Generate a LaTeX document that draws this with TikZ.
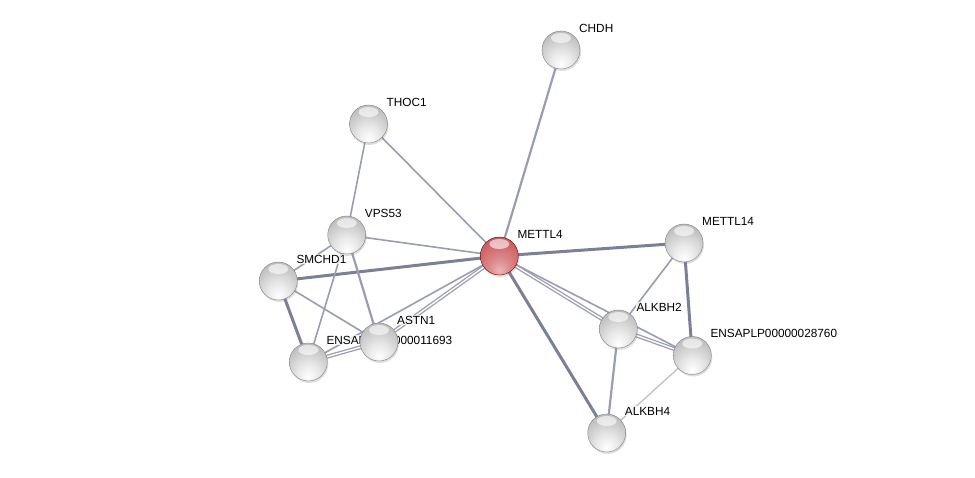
\documentclass[tikz,border=0pt]{standalone}
\usepackage{fontspec}
\setmainfont{Liberation Sans}
\usetikzlibrary{calc,shadows}
\pgfdeclarelayer{edges}
\pgfdeclarelayer{labels}
\pgfsetlayers{edges,labels,main}
\definecolor{edgec}{RGB}{122,128,152}
\definecolor{edgem}{RGB}{152,157,180}
\definecolor{edgel}{RGB}{192,195,210}
\definecolor{redmid}{RGB}{206,96,100}
\pgfdeclareradialshading{graysph}{\pgfpoint{0bp}{-20bp}}{%
  color(0bp)=(white); color(14bp)=(black!9); color(32bp)=(black!24);
  color(48bp)=(black!32); color(58bp)=(black!46); color(80bp)=(black!55)}
\pgfdeclareradialshading{redsph}{\pgfpoint{0bp}{-20bp}}{%
  color(0bp)=(redmid!45!white); color(14bp)=(redmid!75!white); color(32bp)=(redmid);
  color(48bp)=(redmid!88!black); color(58bp)=(redmid!65!black); color(80bp)=(redmid!50!black)}
\tikzset{
  ballnode/.style={circle, minimum size=38pt, inner sep=0pt, shading=graysph,
    draw=black!50, line width=0.4pt,
    drop shadow={opacity=0.25, shadow xshift=1pt, shadow yshift=-2pt},
    path picture={\fill[white,opacity=0.6] ($(path picture bounding box.center)+(0,-12)$) ellipse (10pt and 5pt);}},
  redball/.style={ballnode, shading=redsph, draw=red!40!black},
  lab/.style={anchor=west, font=\fontsize{11.8}{14}\selectfont, fill=white, fill opacity=0.75, text opacity=1, inner sep=1pt},
  thin/.style={draw=edgem, line width=1.6pt},
  med/.style={draw=edgem, line width=2.2pt},
  thick/.style={draw=edgec, line width=3pt},
  light/.style={draw=edgel, line width=1.4pt},
  dbl/.style={draw=edgem, double=white, double distance=1.4pt, line width=1.3pt},
}
\begin{document}
\begin{tikzpicture}[x=1pt,y=-1pt]
\useasboundingbox (0,0) rectangle (975,478);
% nodes
\node[ballnode] (chdh) at (561,50) {};
\node[ballnode] (thoc1) at (368.5,124) {};
\node[ballnode] (vps53) at (346.7,235) {};
\node[ballnode] (smchd1) at (278.3,281) {};
\node[ballnode] (ensa1) at (308.3,362) {};
\node[ballnode] (astn1) at (379,342) {};
\node[redball] (mettl4) at (499.3,256) {};
\node[ballnode] (mettl14) at (684,243) {};
\node[ballnode] (alkbh2) at (618.3,329) {};
\node[ballnode] (ensa2) at (692.3,355.5) {};
\node[ballnode] (alkbh4) at (606.7,433) {};
% labels
\begin{pgfonlayer}{labels}
\node[lab] (lchdh) at ($(chdh)+(17,-22)$) {CHDH};
\node[lab] (lthoc1) at ($(thoc1)+(17,-22)$) {THOC1};
\node[lab] (lvps53) at ($(vps53)+(17,-22)$) {VPS53};
\node[lab] (lsmchd1) at ($(smchd1)+(17,-22)$) {SMCHD1};
\node[lab] (lensa1) at ($(ensa1)+(17,-22)$) {ENSAPLP00000011693};
\node[lab] (lastn1) at ($(astn1)+(17,-22)$) {ASTN1};
\node[lab] (lmettl4) at ($(mettl4)+(17,-22)$) {METTL4};
\node[lab] (lmettl14) at ($(mettl14)+(17,-22)$) {METTL14};
\node[lab] (lalkbh2) at ($(alkbh2)+(17,-22)$) {ALKBH2};
\node[lab] (lensa2) at ($(ensa2)+(17,-22)$) {ENSAPLP00000028760};
\node[lab] (lalkbh4) at ($(alkbh4)+(17,-22)$) {ALKBH4};
\end{pgfonlayer}
% edges
\begin{pgfonlayer}{edges}
\draw[med] (mettl4.center) -- (chdh.center);
\draw[thin] (mettl4.center) -- (thoc1.center);
\draw[thin] (mettl4.center) -- (vps53.center);
\draw[thick] (mettl4.center) -- (smchd1.center);
\draw[dbl] (mettl4.center) -- (astn1.center);
\draw[thin] (mettl4.center) -- (ensa1.center);
\draw[thick] (mettl4.center) -- (mettl14.center);
\draw[dbl] (mettl4.center) -- (alkbh2.center);
\draw[thin] (mettl4.center) -- (ensa2.center);
\draw[thick] (mettl4.center) -- (alkbh4.center);
\draw[thin] (thoc1.center) -- (vps53.center);
\draw[thin] (vps53.center) -- (smchd1.center);
\draw[thin] (vps53.center) -- (ensa1.center);
\draw[med] (vps53.center) -- (astn1.center);
\draw[thin] (smchd1.center) -- (astn1.center);
\draw[thick] (smchd1.center) -- (ensa1.center);
\draw[dbl] (ensa1.center) -- (astn1.center);
\draw[thin] (mettl14.center) -- (alkbh2.center);
\draw[thick] (mettl14.center) -- (ensa2.center);
\draw[dbl] (alkbh2.center) -- (ensa2.center);
\draw[med] (alkbh2.center) -- (alkbh4.center);
\draw[light] (ensa2.center) -- (alkbh4.center);
\end{pgfonlayer}
\end{tikzpicture}
\end{document}
